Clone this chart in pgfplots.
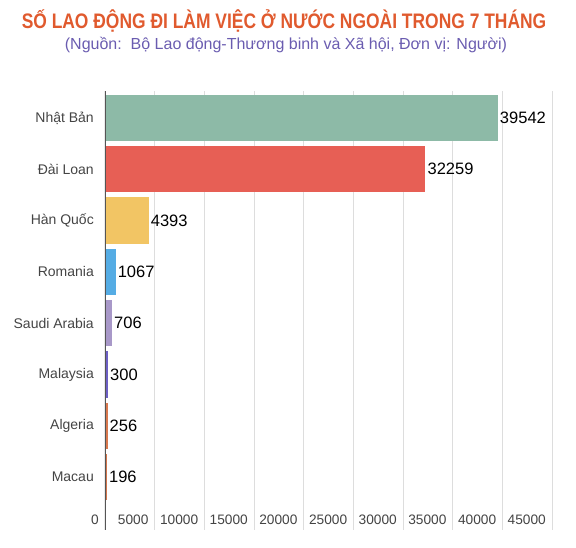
\documentclass[border=0pt]{standalone}
\usepackage{fontspec}
\setmainfont{Liberation Sans}
\newfontfamily\condfont[FakeStretch=0.83]{Liberation Sans}
\usepackage{pgfplots}
\pgfplotsset{compat=1.18}

\definecolor{titlecol}{HTML}{E05A2E}
\definecolor{subcol}{HTML}{6A5CB0}
\definecolor{gridcol}{HTML}{DDDDDD}
\definecolor{axiscol}{HTML}{555555}
\definecolor{labcol}{HTML}{444444}
\definecolor{cJP}{HTML}{8DBAA7}
\definecolor{cTW}{HTML}{E75F55}
\definecolor{cKR}{HTML}{F2C564}
\definecolor{cRO}{HTML}{55ACE4}
\definecolor{cSA}{HTML}{A898C8}
\definecolor{cMY}{HTML}{6C5FC4}
\definecolor{cDZ}{HTML}{D9784E}
\definecolor{cMO}{HTML}{D4764C}

\begin{document}
\begin{tikzpicture}
\path[use as bounding box] (0pt,0pt) rectangle (576pt,-548pt);
\node[font=\condfont\bfseries\fontsize{21}{24}\selectfont, text=titlecol]
  at (284pt,-21pt) {SỐ LAO ĐỘNG ĐI LÀM VIỆC Ở NƯỚC NGOÀI TRONG 7 THÁNG};
\node[font=\fontsize{16}{19}\selectfont, text=subcol]
  at (286pt,-45pt) {(Nguồn:\ \ Bộ Lao động-Thương binh và Xã hội, Đơn vị: Người)};
\begin{axis}[
  at={(105pt,-91pt)}, anchor=north west,
  scale only axis, width=447pt, height=439pt,
  xbar, bar width=0.9, bar shift=0pt,
  xmin=0, xmax=45000, ymin=-0.526, ymax=8.033, y dir=reverse,
  ytick={0,...,7},
  yticklabels={Nhật Bản, Đài Loan, Hàn Quốc, Romania, Saudi Arabia, Malaysia, Algeria, Macau},
  xtick={0,5000,...,45000},
  scaled x ticks=false,
  xmajorgrids, grid style={draw=gridcol, line width=0.8pt},
  axis line style={draw=none}, major tick length=0pt,
  /pgf/number format/1000 sep={},
  /pgf/number format/assume math mode=true,
  xticklabel style={font=\fontsize{13.7}{16}\selectfont, text=labcol,
    anchor=east, inner sep=2pt, xshift=-4pt, yshift=10pt},
  yticklabel style={font=\fontsize{14}{16}\selectfont, text=labcol,
    inner sep=0pt, xshift=-11pt},
  nodes near coords,
  every node near coord/.append style={font=\fontsize{16.5}{19}\selectfont,
    text=black, anchor=west, inner sep=2pt},
]
\addplot[fill=cJP, draw=none] coordinates {(39542,0)};
\addplot[fill=cTW, draw=none] coordinates {(32259,1)};
\addplot[fill=cKR, draw=none] coordinates {(4393,2)};
\addplot[fill=cRO, draw=none] coordinates {(1067,3)};
\addplot[fill=cSA, draw=none] coordinates {(706,4)};
\addplot[fill=cMY, draw=none] coordinates {(300,5)};
\addplot[fill=cDZ, draw=none] coordinates {(256,6)};
\addplot[fill=cMO, draw=none] coordinates {(196,7)};
\draw[axiscol, line width=1.6pt] (rel axis cs:0,0) -- (rel axis cs:0,1);
\end{axis}
\end{tikzpicture}
\end{document}
